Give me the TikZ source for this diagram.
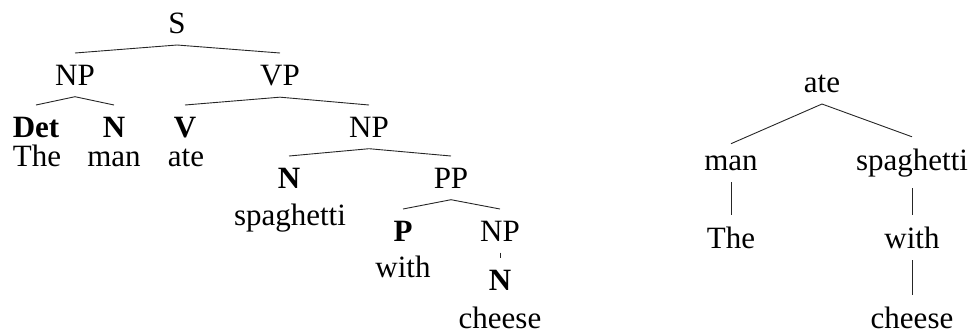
\documentclass[tikz,border=0pt]{standalone}
\usepackage{fontspec}
\setmainfont{Liberation Serif}
\begin{document}
\begin{tikzpicture}[x=1pt,y=-1pt,
  w/.style={anchor=base,inner xsep=0pt,inner ysep=11.5pt,font=\fontsize{31}{37}\selectfont},
  edge/.style={line width=0.9pt,black!85}]
\useasboundingbox (0,0) rectangle (972,333);
% left tree
\node[w] (S) at (177,33) {S};
\node[w] (NPa) at (75,85) {NP};
\node[w] (VP) at (280,85) {VP};
\node[w] (Det) at (36,137) {\textbf{Det}};
\node[w] (Na) at (114,137) {\textbf{N}};
\node[w] (V) at (185,137) {\textbf{V}};
\node[w] (NPb) at (369,137) {NP};
\node[w] (The) at (37,166) {The};
\node[w] (man) at (114,166) {man};
\node[w] (ate) at (186,166) {ate};
\node[w] (Nb) at (289,188) {\textbf{N}};
\node[w] (PP) at (451,188) {PP};
\node[w] (spag) at (290,225) {spaghetti};
\node[w] (P) at (403,241) {\textbf{P}};
\node[w] (NPc) at (500,241) {NP};
\node[w] (with) at (403,277) {with};
\node[w] (Nc) at (500,290) {\textbf{N}};
\node[w] (cheese) at (500,328) {cheese};
\draw[edge] (NPa.north) -- (S.south) -- (VP.north);
\draw[edge] (Det.north) -- (NPa.south) -- (Na.north);
\draw[edge] (V.north) -- (VP.south) -- (NPb.north);
\draw[edge] (Nb.north) -- (NPb.south) -- (PP.north);
\draw[edge] (P.north) -- (PP.south) -- (NPc.north);
\draw[edge] (NPc.south) -- (Nc.north);
% right tree
\node[w] (ateR) at (822,92) {ate};
\node[w] (manR) at (731,170) {man};
\node[w] (spagR) at (912,170) {spaghetti};
\node[w] (TheR) at (731,248) {The};
\node[w] (withR) at (912,248) {with};
\node[w] (cheeseR) at (912,328) {cheese};
\draw[edge] (manR.north) -- (ateR.south) -- (spagR.north);
\draw[edge] (manR.south) -- (TheR.north);
\draw[edge] (spagR.south) -- (withR.north);
\draw[edge] (withR.south) -- (cheeseR.north);
\end{tikzpicture}
\end{document}
